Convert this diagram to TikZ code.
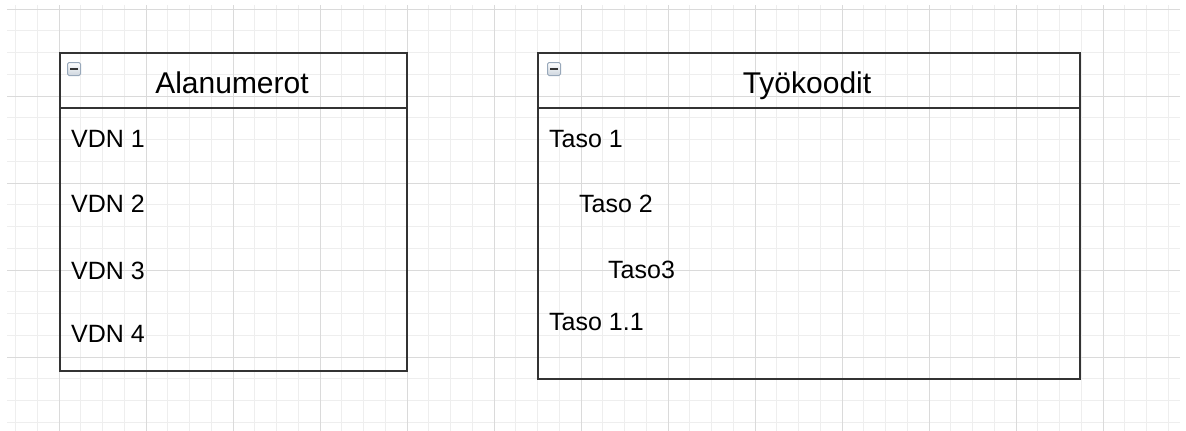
\documentclass[tikz,border=0pt]{standalone}
\usepackage{fontspec}
\setmainfont{Liberation Sans}
\usetikzlibrary{calc}
\definecolor{gridminor}{HTML}{EEEEEE}
\definecolor{gridmajor}{HTML}{DADADA}
\definecolor{boxline}{HTML}{333333}
\definecolor{iconline}{HTML}{98A8BA}
\definecolor{iconfill}{HTML}{CDD5DE}
\begin{document}
\begin{tikzpicture}[x=1pt,y=-1pt,
  panel/.style={draw=boxline,line width=2.3pt,inner sep=0pt,anchor=north west},
  headtext/.style={font=\fontsize{30}{36}\selectfont,anchor=base,inner sep=0pt},
  itemtext/.style={font=\fontsize{25}{30}\selectfont,anchor=base west,inner sep=0pt},
  icon/.style={draw=iconline,line width=1pt,rounded corners=1.5pt,minimum size=13pt,inner sep=0pt,top color=white,bottom color=iconfill},
  sep/.style={draw=boxline,line width=2.3pt}]
\useasboundingbox (0,0) rectangle (1186,431);
\fill[white] (0,0) rectangle (1186,431);
% grid
\foreach \i in {-2,...,51}{
  \pgfmathsetmacro{\xx}{59+21.75*\i}
  \draw[gridminor,line width=1pt] (\xx,5) -- (\xx,431);
}
\foreach \j in {0,...,19}{
  \pgfmathsetmacro{\yy}{9+21.75*\j}
  \draw[gridminor,line width=1pt] (7,\yy) -- (1180,\yy);
}
\foreach \i in {0,...,12}{
  \pgfmathsetmacro{\xx}{59+87*\i}
  \draw[gridmajor,line width=1pt] (\xx,5) -- (\xx,431);
}
\foreach \j in {0,...,4}{
  \pgfmathsetmacro{\yy}{9+87*\j}
  \draw[gridmajor,line width=1pt] (7,\yy) -- (1180,\yy);
}
% left panel
\node (alan) [panel,minimum width=347pt,minimum height=318pt] at (59,52) {};
\draw[sep] ($(alan.north west)+(0,56)$) -- ($(alan.north east)+(0,56)$);
\node (icA) [icon] at (74,69) {\textcolor{boxline}{\rule[-1pt]{8pt}{2pt}}};
\node (alanh) [headtext] at (232,93) {Alanumerot};
\node (v1) [itemtext] at (71,147) {VDN 1};
\node (v2) [itemtext] at (71,212) {VDN 2};
\node (v3) [itemtext] at (71,279) {VDN 3};
\node (v4) [itemtext] at (71,342) {VDN 4};
% right panel
\node (tyo) [panel,minimum width=542pt,minimum height=326pt] at (537,52) {};
\draw[sep] ($(tyo.north west)+(0,56)$) -- ($(tyo.north east)+(0,56)$);
\node (icB) [icon] at (554,69) {\textcolor{boxline}{\rule[-1pt]{8pt}{2pt}}};
\node (tyoh) [headtext] at (807,93) {Työkoodit};
\node (t1) [itemtext] at (549,147) {Taso 1};
\node (t2) [itemtext] at (579,212) {Taso 2};
\node (t3) [itemtext] at (608,278) {Taso3};
\node (t11) [itemtext] at (549,330) {Taso 1.1};
\end{tikzpicture}
\end{document}
